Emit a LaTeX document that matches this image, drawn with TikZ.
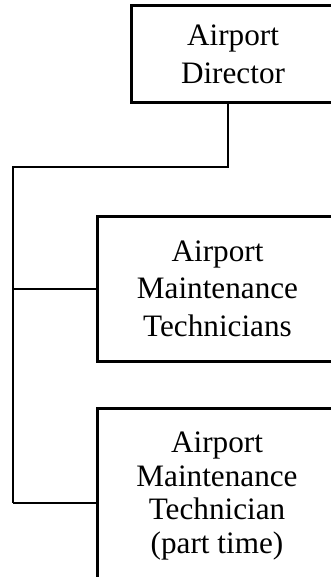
\documentclass[tikz,border=0pt]{standalone}
\usepackage{fontspec}
\setmainfont{Liberation Serif}
\begin{document}
\begin{tikzpicture}[
  x=0.5pt, y=-0.5pt,
  every node/.style={font=\fontsize{15.6}{18.75}\selectfont},
  post/.style={rectangle, draw, line width=1.5pt, align=center, inner sep=0pt},
  link/.style={draw, line width=1pt}
]

% page frame, boxes run off the right edge
\path[use as bounding box, clip] (0,0) rectangle (331,577);

% Boxes
\node[post, minimum width=102pt, minimum height=48.5pt] (dir) at (233,54.5) {Airport\\Director};
\node[post, minimum width=120.5pt, minimum height=72.5pt] (tech) at (217.5,288.5) {Airport\\Maintenance\\Technicians};
\node[post, minimum width=120pt, minimum height=88pt, font=\fontsize{15.6}{16.9}\selectfont] (part) at (217,496) {Airport\\Maintenance\\Technician\\(part time)};

% Spine
\coordinate (elbow) at (13,167);
\coordinate (corner) at (13,503);
\coordinate (branch) at (13,288.5);

\draw[link] ([xshift=-2.5pt]dir.south) |- (elbow) -- (corner);
\draw[link] (branch) -- (tech.west);
\draw[link] (corner) -- (corner -| part.west);

\end{tikzpicture}
\end{document}
